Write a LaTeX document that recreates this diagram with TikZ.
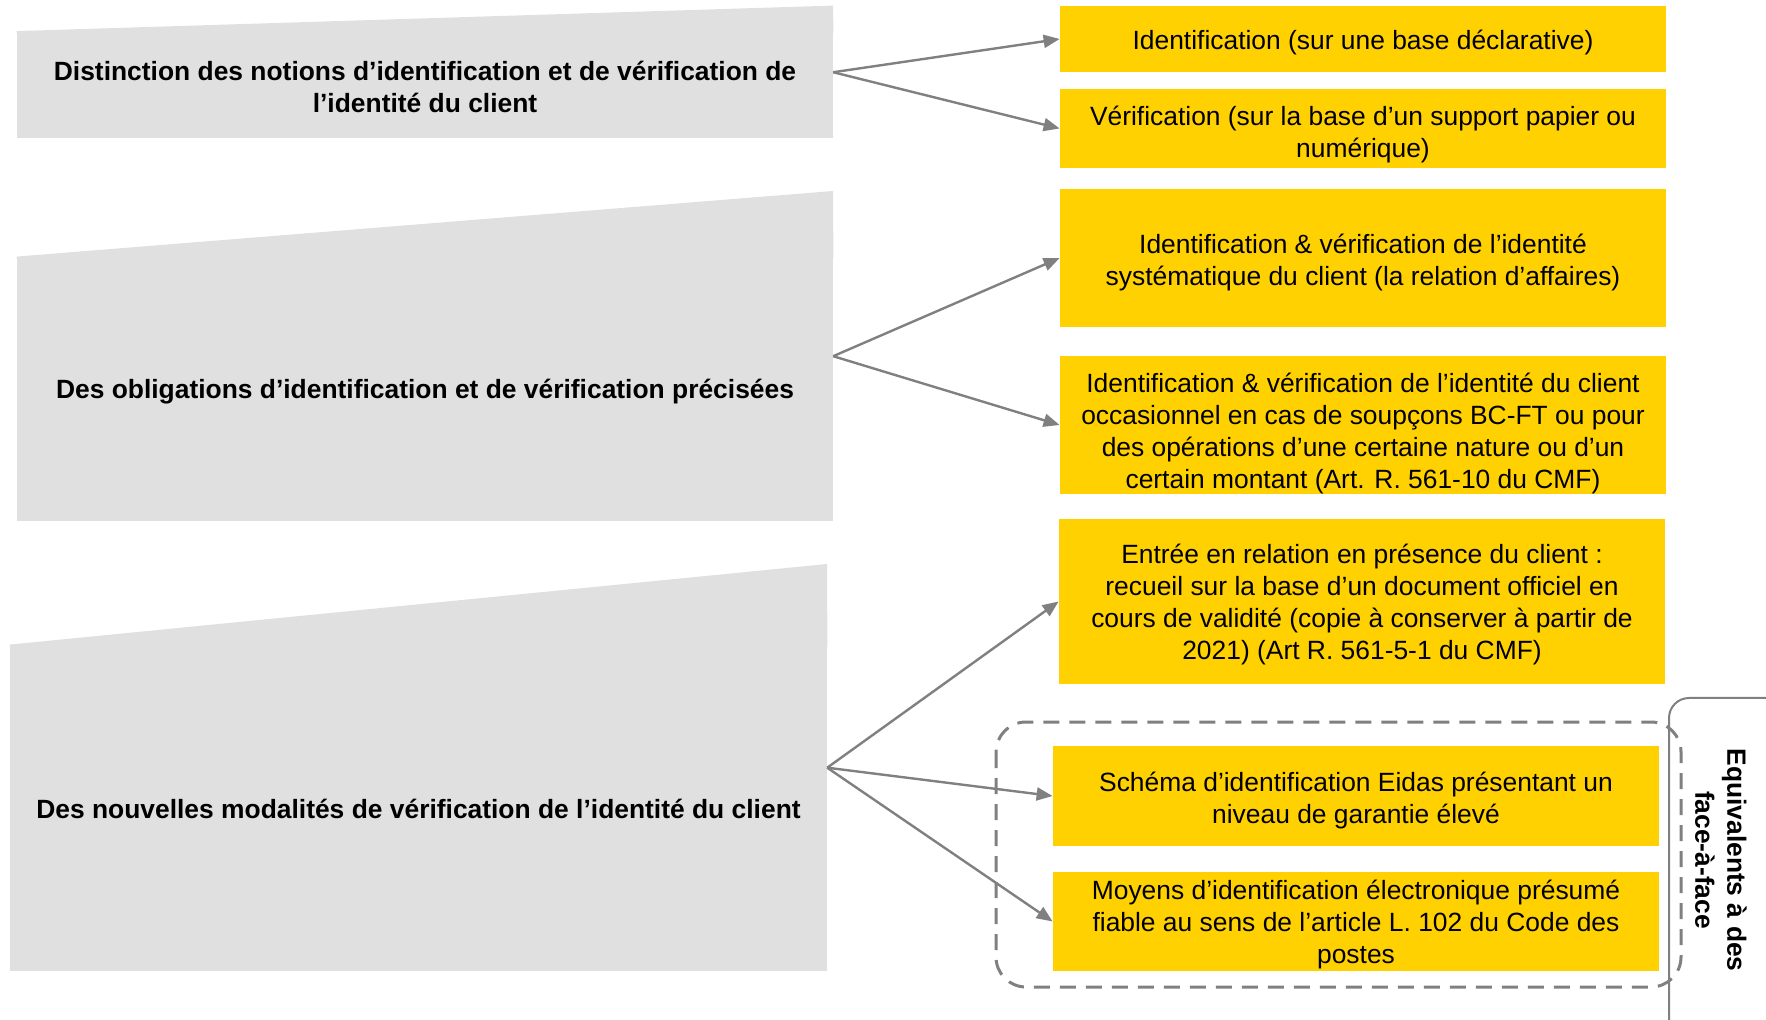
\documentclass[tikz,border=0pt]{standalone}
\usepackage{fontspec}
\setmainfont{Liberation Sans}
\usetikzlibrary{arrows.meta,calc}
\definecolor{boxyellow}{HTML}{FFD100}
\definecolor{boxgray}{HTML}{E0E0E0}
\definecolor{linegray}{HTML}{808080}
\newcommand{\txt}{\fontsize{13.2}{16}\selectfont}
\newcommand{\pad}[1]{\rule{0pt}{#1}}

\begin{document}
\begin{tikzpicture}[x=0.5pt,y=-0.5pt,
	theme/.style={fill=boxgray,inner sep=0pt,align=center,font=\txt\bfseries,minimum width=408pt},
	item/.style={fill=boxyellow,inner sep=0pt,align=center,font=\txt,minimum width=303pt},
	link/.style={draw=linegray,line width=1.2pt,-{Triangle[length=8pt,width=6.5pt]}}]
		\useasboundingbox (0,0) rectangle (1766,1020);
		\clip (0,0) rectangle (1766,1020);
		% themes on the left
		\node[theme,minimum height=53.5pt] (g1) at (425,85) {\pad{12pt}Distinction des notions d’identification et de vérification de\\l’identité du client};
		\coordinate (g1top) at (833,5.6);
		\fill[boxgray] (g1.north west) -- (g1top) -- ($(g1.north east)+(0,2)$) -- ($(g1.north west)+(0,2)$) -- cycle;
		\node[theme,minimum height=132pt] (g2) at (425,389) {\pad{12pt}Des obligations d’identification et de vérification précisées};
		\coordinate (g2top) at (833,191);
		\fill[boxgray] (g2.north west) -- (g2top) -- ($(g2.north east)+(0,2)$) -- ($(g2.north west)+(0,2)$) -- cycle;
		\node[theme,minimum width=408.5pt,minimum height=163pt] (g3) at (418.5,808) {\pad{11pt}Des nouvelles modalités de vérification de l’identité du client};
		\coordinate (g3top) at (827,564);
		\fill[boxgray] (g3.north west) -- (g3top) -- ($(g3.north east)+(0,2)$) -- ($(g3.north west)+(0,2)$) -- cycle;
		\coordinate (g1out) at ($(g1top)!.5!(g1.south east)$);
		\coordinate (g2out) at ($(g2top)!.5!(g2.south east)$);
		\coordinate (g3out) at ($(g3top)!.5!(g3.south east)$);
		% items on the right
		\node[item,minimum height=33pt] (y1) at (1363,39) {\pad{13.5pt}Identification (sur une base déclarative)};
		\node[item,minimum height=39.5pt] (y2) at (1363,128.5) {\pad{15.3pt}Vérification (sur la base d’un support papier ou\\numérique)};
		\node[item,minimum height=69pt] (y3) at (1363,258) {\pad{14.2pt}Identification \& vérification de l’identité\\systématique du client (la relation d’affaires)};
		\node[item,minimum height=69pt] (y4) at (1363,425) {\pad{18.7pt}Identification \& vérification de l’identité du client\\occasionnel en cas de soupçons BC-FT ou pour\\des opérations d’une certaine nature ou d’un\\certain montant (Art. R. 561-10 du CMF)};
		\node[item,minimum height=82.5pt] (y5) at (1362,601.5) {\pad{13.1pt}Entrée en relation en présence du client :\\recueil sur la base d’un document officiel en\\cours de validité (copie à conserver à partir de\\2021) (Art R. 561-5-1 du CMF)};
		\node[item,minimum height=50pt] (y6) at (1356,796) {\pad{14.2pt}Schéma d’identification Eidas présentant un\\niveau de garantie élevé};
		\node[item,minimum height=49.5pt] (y7) at (1356,921.5) {\pad{13.1pt}Moyens d’identification électronique présumé\\fiable au sens de l’article L. 102 du Code des\\postes};
		% face-a-face group
		\draw[linegray,line width=1.5pt,dash pattern=on 8pt off 5pt,rounded corners=15pt] (996,722) rectangle (1681,987);
		\draw[linegray,line width=1pt,rounded corners=10pt] (1669,698) rectangle (1800,1060);
		\node[rotate=-90,align=center,font=\txt\bfseries] (eq) at (1721,860) {Equivalents à des\\face-à-face};
		% links
		\draw[link] (g1out) -- (y1.west);
		\draw[link] (g1out) -- (y2.west);
		\draw[link] (g2out) -- (y3.west);
		\draw[link] (g2out) -- (y4.west);
		\draw[link] (g3out) -- (y5.west);
		\draw[link] (g3out) -- (y6.west);
		\draw[link] (g3out) -- (y7.west);
	\end{tikzpicture}
\end{document}
